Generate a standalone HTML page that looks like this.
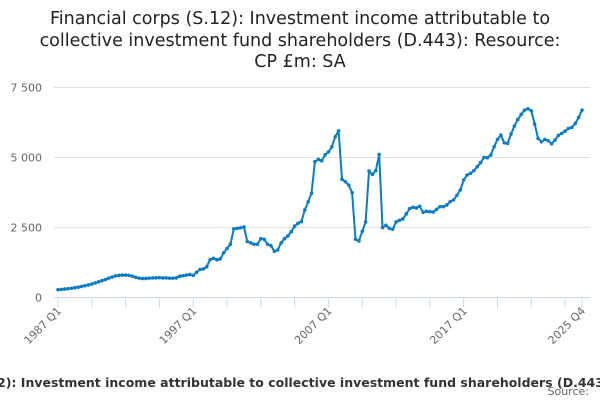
<!DOCTYPE html>
<html><head><meta charset="utf-8"><style>
body{margin:0;background:#fff;width:600px;height:400px;overflow:hidden;font-family:"DejaVu Sans","Liberation Sans",sans-serif}
</style></head><body>
<svg id="chart" width="600" height="400" xmlns="http://www.w3.org/2000/svg">
<g font-size="17.5" fill="#222" text-anchor="middle">
<text x="300" y="24">Financial corps (S.12): Investment income attributable to</text>
<text x="300" y="46">collective investment fund shareholders (D.443): Resource:</text>
<text x="300" y="67">CP £m: SA</text>
</g>
<g id="grid"></g>
<g id="yaxis"></g>
<g id="xaxis"></g>
<g id="series"></g>
<text x="312" y="387" text-anchor="middle" font-size="12.5" font-weight="bold" fill="#333">Financial corps (S.12): Investment income attributable to collective investment fund shareholders (D.443): Resource: CP £m: SA</text>
<text x="589" y="395" text-anchor="end" font-size="11" fill="#666">Source:</text>
</svg>
<script>
const yTicks=[0,2500,5000,7500];
const yTickLabels=["0","2 500","5 000","7 500"];
const xTickLabels=["1987 Q1","1997 Q1","2007 Q1","2017 Q1","2025 Q4"];
const xTickIndex=[0,40,80,120,155];
const values=[280,290,300,315,330,350,370,395,420,450,480,520,560,600,640,690,730,770,
790,800,800,790,760,720,690,680,
680,690,700,700,710,700,700,690,690,700,760,780,800,820,790,
900,1000,1020,1100,1350,1400,1350,1380,1600,1750,1900,2450,2470,2490,2520,2000,1950,1900,1900,2100,2080,1900,1850,1650,1700,1950,2100,2200,2350,2550,2650,
2710,3126,3420,3720,4850,4930,4885,5090,5200,5380,5740,5955,4220,4136,4017,3744,2080,2020,2365,2698,4517,4398,4529,5111,2496,2580,2472,2437,2698,2757,2805,2983,3173,3221,3197,3257,3043,3078,3066,3055,3150,3245,3245,3304,3423,3482,3649,3839,
4196,4374,4433,4529,4671,4814,5004,4992,5087,5384,5646,5800,5527,5503,5836,6121,6359,6537,6692,6739,6668,6193,5681,5562,5646,5598,5491,5622,5788,5860,5943,6038,6074,6216,6430,6692];
const NS="http://www.w3.org/2000/svg";
const x0=58,x1=582,yB=297.5,yT=87.5;
const xs=i=>x0+(x1-x0)*i/(values.length-1);
const ys=v=>yB-(yB-yT)*v/7500;
function mk(t,a,p){const e=document.createElementNS(NS,t);for(const k in a)e.setAttribute(k,a[k]);p.appendChild(e);return e;}
const grid=document.getElementById('grid'),ya=document.getElementById('yaxis'),xa=document.getElementById('xaxis'),se=document.getElementById('series');
yTicks.forEach((v,k)=>{
 if(v>0){const g=mk('line',{x1:x0-4,x2:x1+8,y1:ys(v),y2:ys(v),stroke:'#e0e0e0','stroke-width':1},grid);
 
 }
 const t=mk('text',{x:42,y:ys(v)+4,'text-anchor':'end','font-size':11,fill:'#666'},ya);
 
 
 t.textContent=yTickLabels[k];
});
const ax=mk('line',{x1:x0-4,x2:x1+8,y1:yB,y2:yB,stroke:'#ccd6eb','stroke-width':1},xa);


for(let i=0;i<values.length;i+=10){const tk=mk('line',{x1:xs(i),x2:xs(i),y1:yB,y2:yB+10,stroke:'#ccd6eb'},xa);
 
 }
const lt=mk('line',{x1:xs(155),x2:xs(155),y1:yB,y2:yB+10,stroke:'#ccd6eb'},xa);


xTickIndex.forEach((i,k)=>{const x=xs(i)+4,y=yB+14;
 const t=mk('text',{x:x,y:y,'text-anchor':'end','font-size':11,fill:'#666',transform:`rotate(-45 ${x} ${y})`},xa);
 
 
 t.textContent=xTickLabels[k];});
const pts=values.map((v,i)=>xs(i).toFixed(1)+','+ys(v).toFixed(1)).join(' ');
const pl=mk('polyline',{points:pts,fill:'none',stroke:'#0b7cc1','stroke-width':2,'stroke-linejoin':'round'},se);


values.forEach((v,i)=>{const c=mk('circle',{cx:xs(i),cy:ys(v),r:1.8,fill:'#0b7cc1'},se);
 
 });
</script>
</body></html>
